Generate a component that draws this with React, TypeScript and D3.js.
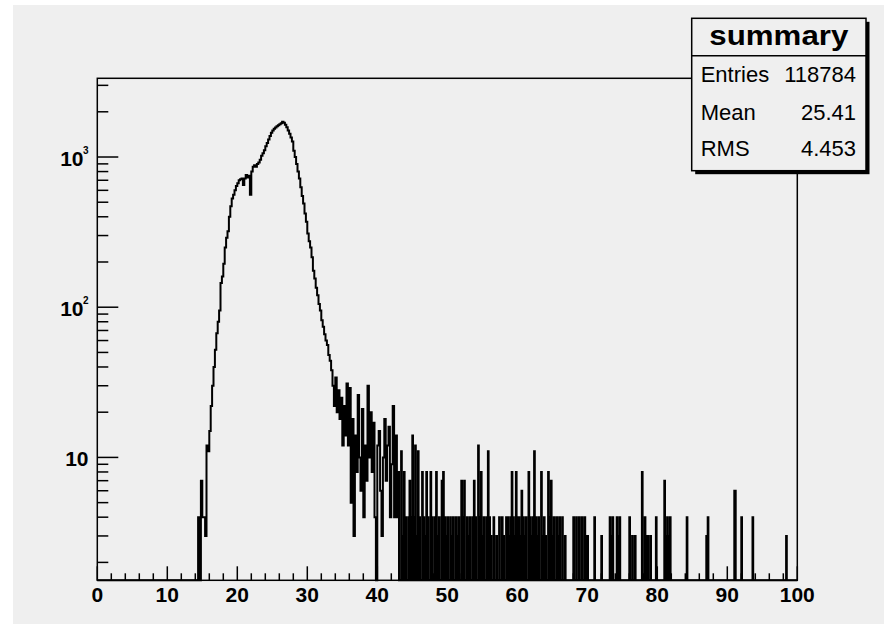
import React from "react";
import * as d3 from "d3";

// ---------- data ----------
const fineBin = 0.1; // histogram binning
const xDomain = [0, 100];
const yDomain = [1.52, 3342];

// main peak, read in steps of 0.2 starting at 14.4
const bodyStart = 14.4;
const bodyStep = 0.2;
const bodyCounts = [
  4, 0, 7, 4, 4, 3, 12, 11, 15, 22, 30, 40, 52, 67, 80, 95, 145, 160, 195, 250,
  290, 320, 400, 470, 530, 560, 600, 640, 670, 700, 710, 720, 650, 720, 760, 730,
  750, 560, 800, 860, 880, 860, 900, 920, 960, 1020, 1060, 1110, 1180, 1240, 1310,
  1380, 1450, 1500, 1540, 1570, 1600, 1630, 1650, 1680, 1720, 1690, 1640, 1580,
  1500, 1430, 1350, 1270, 1100, 1000, 900, 800, 720, 630, 550, 490, 420, 370, 310,
  275, 250, 215, 175, 155, 135, 120, 105, 95, 82, 74, 66, 60, 56, 48, 44,
];

// noisy falling edge, read in steps of 0.2 (empty where not listed)
const nearTailX = [
  33.4, 33.6, 33.8, 34.0, 34.2, 34.4, 34.6, 34.8, 35.0, 35.2, 35.4, 35.6, 35.8, 36.0,
  36.2, 36.4, 36.6, 36.8, 37.0, 37.2, 37.4, 37.6, 37.8, 38.0, 38.2, 38.4, 38.6, 38.8,
  39.0, 39.2, 39.4, 39.6, 40.0, 40.2, 40.4, 40.6, 40.8, 41.0, 41.2, 41.4, 41.6, 41.8,
  42.0, 42.2, 42.4, 42.6, 42.8,
];
const nearTailCounts = [
  38, 30, 22, 34, 20, 28, 18, 25, 12, 22, 14, 31, 12, 29,
  5, 18, 3, 14, 8, 26, 10, 6, 21, 4, 12, 7, 30, 10,
  20, 8, 17, 4, 12, 15, 6, 3, 10, 18, 7, 12, 16, 4,
  9, 22, 4, 14, 4,
];

// far tail: single fine bins (0.1 wide) with content; others empty
const farTailX = [
  43.0, 43.4, 43.6, 43.8, 44.0, 44.4, 44.6, 44.8, 45.0,
  45.2, 45.4, 45.6, 45.8, 46.0, 46.4, 46.6, 46.8, 47.0, 47.2, 47.6, 47.8, 48.2, 48.4,
  48.6, 48.8, 49.2, 49.4, 49.6, 49.8, 50.0, 50.4, 50.6, 50.8, 51.2, 51.4, 51.6, 52.0,
  52.2, 52.4, 52.8, 53.0, 53.2, 53.6, 53.8, 54.0, 54.4, 54.6, 54.8, 55.0, 55.2, 55.6,
  55.8, 56.0, 56.2, 56.6, 57.0, 57.4, 57.8, 58.0, 58.4, 58.6, 58.8, 59.0, 59.2, 59.4,
  59.6, 59.8, 60.0, 60.2, 60.4, 60.6, 60.8, 61.0, 61.2, 61.6, 61.8, 62.0, 62.2, 62.4,
  62.6, 62.8, 63.0, 63.4, 63.6, 63.8, 64.0, 64.4, 64.6, 64.8, 65.0, 65.2, 65.6, 65.8,
  66.0, 66.4, 66.8, 68.0, 68.4, 68.8, 69.2, 69.6, 69.8, 70.0, 71.0, 72.0, 73.2, 73.4,
  73.6, 74.2, 74.4, 74.6, 76.0, 76.4, 76.8, 77.8, 78.2, 78.4, 78.6, 79.0, 79.8, 81.0,
  81.2, 81.4, 81.6, 81.8, 84.2, 87.0, 87.2, 91.0, 91.1, 92.0, 93.6, 98.4,
];
const farTailCounts = [
  8, 11, 3, 8, 4, 4, 7, 4, 14,
  4, 12, 3, 11, 4, 8, 4, 3, 8, 4, 8, 4, 4, 8,
  3, 4, 7, 8, 4, 3, 4, 4, 3, 4, 4, 3, 4, 7,
  4, 7, 4, 3, 4, 4, 7, 4, 12, 4, 8, 3, 4, 4,
  11, 4, 3, 4, 3, 4, 4, 3, 4, 4, 3, 4, 8, 4,
  3, 8, 4, 4, 3, 6, 4, 3, 4, 8, 4, 3, 4, 11,
  4, 3, 4, 8, 3, 4, 3, 8, 4, 7, 3, 4, 4, 3,
  4, 4, 3, 4, 4, 4, 4, 4, 3, 3, 4, 3, 4, 3,
  4, 4, 3, 4, 4, 3, 3, 8, 4, 3, 3, 3, 4, 7,
  3, 4, 3, 4, 4, 3, 4, 6, 6, 4, 4, 3,
];

const xTicks = [0, 10, 20, 30, 40, 50, 60, 70, 80, 90, 100];
const yTickLabels = [
  { v: 10, base: "10", sup: "" },
  { v: 100, base: "10", sup: "2" },
  { v: 1000, base: "10", sup: "3" },
];
const statsTitle = "summary";
const statsRows = [
  ["Entries", "118784"],
  ["Mean", "25.41"],
  ["RMS", "4.453"],
];

// ---------- layout ----------
const W = 884;
const H = 624;
const fL = 97.3, fR = 797.3, fT = 78.3, fB = 580.3;
const FONT = "'Liberation Sans', Arial, Helvetica, sans-serif";

export default function App() {
  const x = d3.scaleLinear().domain(xDomain).range([fL, fR]);
  const y = d3.scaleLog().domain(yDomain).range([fB, fT]);

  const nBins = Math.round((xDomain[1] - xDomain[0]) / fineBin);
  const counts = new Array(nBins).fill(0);
  const per = Math.round(bodyStep / fineBin);
  bodyCounts.forEach((c, i) => {
    const b0 = Math.round((bodyStart + i * bodyStep) / fineBin);
    for (let k = 0; k < per; k++) counts[b0 + k] = c;
  });
  nearTailX.forEach((tx, i) => {
    const b0 = Math.round(tx / fineBin);
    for (let k = 0; k < per; k++) counts[b0 + k] = nearTailCounts[i];
  });
  farTailX.forEach((tx, i) => {
    counts[Math.round(tx / fineBin)] = farTailCounts[i];
  });

  const pts: [number, number][] = [];
  pts.push([x(0), fB]);
  counts.forEach((c, i) => {
    const lo = i * fineBin;
    const hi = lo + fineBin;
    const yy = c > yDomain[0] ? y(c) : fB;
    pts.push([x(lo), yy]);
    pts.push([x(hi), yy]);
  });
  pts.push([x(100), fB]);
  const histPath = d3.line()(pts) || "";

  // minor ticks
  const xMinor = d3.range(0, 100.001, 2).filter((v) => v % 10 !== 0);
  const yMinor: number[] = [];
  for (let dec = 1; dec <= 1000; dec *= 10) {
    for (let k = 2; k <= 9; k++) {
      const v = k * dec;
      if (v > yDomain[0] && v < yDomain[1]) yMinor.push(v);
    }
  }
  const yMajor = [10, 100, 1000];

  // stats box
  const bx = 691.7, by = 18.3, bw = 174.3, bh = 152.4;
  const rowBase = [81.5, 120, 156];

  return (
    <svg
      width={W}
      height={H}
      style={{ position: "absolute", left: 0, top: 0, display: "block" }}
      fontFamily={FONT}
    >
      <rect x={0} y={0} width={W} height={H} fill="#ffffff" />
      <rect x={13} y={5} width={W - 13} height={H - 5} fill="#efefef" />

      {/* histogram */}
      <path d={histPath} fill="none" stroke="#000" strokeWidth={2} strokeLinejoin="miter" />

      {/* frame */}
      <rect x={fL} y={fT} width={fR - fL} height={fB - fT} fill="none" stroke="#000" strokeWidth={1.5} />

      {/* x ticks */}
      {xTicks.map((t) => (
        <line key={"xm" + t} x1={x(t)} x2={x(t)} y1={fB} y2={fB - 14} stroke="#000" strokeWidth={1.5} />
      ))}
      {xMinor.map((t) => (
        <line key={"xn" + t} x1={x(t)} x2={x(t)} y1={fB} y2={fB - 7} stroke="#000" strokeWidth={1.5} />
      ))}
      {xTicks.map((t) => (
        <text
          key={"xl" + t}
          x={x(t)}
          y={602}
          textAnchor="middle"
          fontSize={21}
          fontWeight="bold"
          fill="#000"
        >
          {t}
        </text>
      ))}

      {/* y ticks */}
      {yMajor.map((v) => (
        <line key={"ym" + v} x1={fL} x2={fL + 21} y1={y(v)} y2={y(v)} stroke="#000" strokeWidth={1.5} />
      ))}
      {yMinor.map((v) => (
        <line key={"yn" + v} x1={fL} x2={fL + 11} y1={y(v)} y2={y(v)} stroke="#000" strokeWidth={1.5} />
      ))}
      {yTickLabels.map((l) =>
        l.sup ? (
          <g key={"yl" + l.v}>
            <text x={83.5} y={y(l.v) + 8.5} textAnchor="end" fontSize={21} fontWeight="bold" fill="#000">
              {l.base}
            </text>
            <text x={83} y={y(l.v) - 3} textAnchor="start" fontSize={10} fontWeight="bold" fill="#000">
              {l.sup}
            </text>
          </g>
        ) : (
          <text key={"yl" + l.v} x={88.5} y={y(l.v) + 8.5} textAnchor="end" fontSize={21} fontWeight="bold" fill="#000">
            {l.base}
          </text>
        )
      )}

      {/* stats box */}
      <rect x={bx + 3.5} y={by + 3.5} width={bw} height={bh} fill="#000" />
      <rect x={bx} y={by} width={bw} height={bh} fill="#efefef" stroke="#000" strokeWidth={1.5} />
      <line x1={bx} x2={bx + bw} y1={55.7} y2={55.7} stroke="#000" strokeWidth={1.5} />
      <text
        x={bx + bw / 2}
        y={45}
        textAnchor="middle"
        fontSize={27}
        fontWeight="bold"
        fill="#000"
        textLength={139}
        lengthAdjust="spacingAndGlyphs"
      >
        {statsTitle}
      </text>
      {statsRows.map((r, i) => (
        <g key={r[0]}>
          <text x={700.7} y={rowBase[i]} fontSize={22} fill="#000">
            {r[0]}
          </text>
          <text x={856} y={rowBase[i]} textAnchor="end" fontSize={22} fill="#000">
            {r[1]}
          </text>
        </g>
      ))}
    </svg>
  );
}
